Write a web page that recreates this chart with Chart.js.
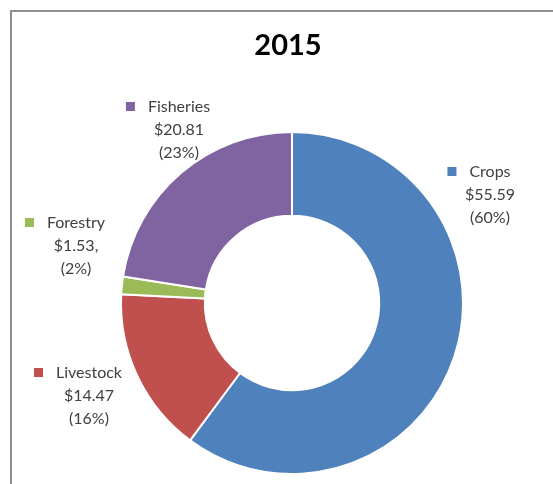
<!DOCTYPE html>
<html>
<head>
<meta charset="utf-8">
<script src="https://cdn.jsdelivr.net/npm/chart.js@4"></script>
<style>
  html, body { margin: 0; padding: 0; background: #fff; overflow: hidden; }
  #wrap { position: relative; width: 553px; height: 484px; }
  #frame { position: absolute; left: 10px; top: 10px; width: 600px; height: 600px; border: 2px solid #8e8e8e; box-sizing: border-box; }
  canvas { position: absolute; left: 0; top: 0; }
</style>
</head>
<body>
<div id="wrap">
  <div id="frame"></div>
  <canvas id="donut" width="553" height="484"></canvas>
</div>
<script>
let title = "2015";
let categories = ["Crops", "Livestock", "Forestry", "Fisheries"];
let values = [55.59, 14.47, 1.53, 20.81];
let valueLabels = ["$55.59", "$14.47", "$1.53,", "$20.81"];
let colors = ["#4f81bd", "#c0504d", "#9bbb59", "#8064a2"];

// where each data label sits, relative to the doughnut centre
let labelOffsets = [[198, -131], [-203, 70], [-216, -80], [-113, -196]];


function percentText(i) {
   let total = values.reduce((a, b) => a + b, 0);
   return "(" + Math.round(values[i] / total * 100) + "%)";
}


const labelPlugin = {
   id: 'outsideLabels',
   afterDraw(chart) {
       const ctx = chart.ctx;
       const arc = chart.getDatasetMeta(0).data[0];
       const cx = arc.x;
       const cy = arc.y;

       ctx.save();
       ctx.font = "bold 29px Lato";
       ctx.fillStyle = "#000";
       ctx.textAlign = "center";
       ctx.textBaseline = "middle";
       ctx.fillText(title, 288, 46);

       ctx.font = "16px Lato";
       categories.forEach((name, i) => {
           const x = cx + labelOffsets[i][0];
           const y = cy + labelOffsets[i][1];
           const w = ctx.measureText(name).width;
           ctx.fillStyle = colors[i];
           ctx.fillRect(x - w / 2 - 22, y - 5, 9, 9);
           ctx.fillStyle = "#404040";
           ctx.fillText(name, x, y);
           ctx.fillText(valueLabels[i], x, y + 23);
           ctx.fillText(percentText(i), x, y + 46);
       });
       ctx.restore();
   }
};


new Chart(document.querySelector('#donut').getContext('2d'), {
   type: 'doughnut',
   data: {
       labels: categories,
       datasets: [{
           data: values,
           backgroundColor: colors,
           borderColor: '#ffffff',
           borderWidth: 2,
       }]
   },
   options: {
       responsive: false,
       animation: false,
       cutout: '51%',
       layout: { padding: { left: 120, right: 89, top: 131, bottom: 9 } },
       plugins: {
           legend: { display: false },
           tooltip: { enabled: false },
       }
   },
   plugins: [labelPlugin]
});
</script>
</body>
</html>
